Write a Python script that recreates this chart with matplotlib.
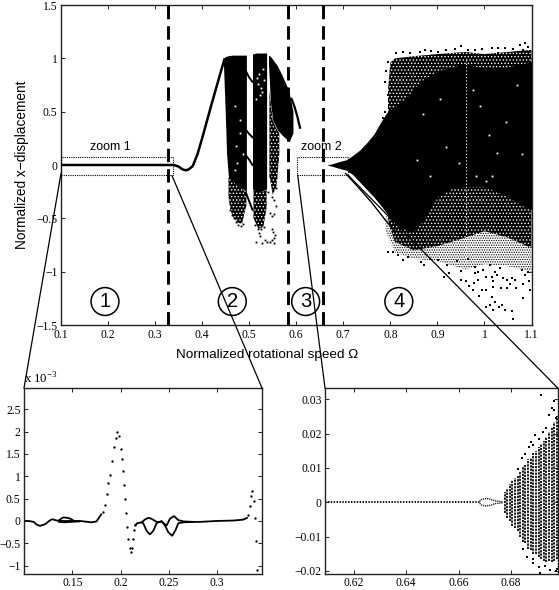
import matplotlib
matplotlib.use('Agg')
import matplotlib.pyplot as plt
from matplotlib.patches import ConnectionPatch, Rectangle

plt.rcParams['font.family'] = ['Liberation Serif', 'DejaVu Serif']
plt.rcParams['hatch.linewidth'] = 0.6
plt.rcParams['axes.unicode_minus'] = True

W, H = 559, 590

# ---- main panel data
curve_x = [0.1, 0.2, 0.33, 0.34, 0.35, 0.358, 0.365, 0.372, 0.38, 0.39, 0.40, 0.42, 0.44, 0.448]
curve_y = [0.0, 0.0, 0.0, 0.0, -0.015, -0.04, -0.05, -0.04, -0.01, 0.10, 0.25, 0.57, 0.88, 1.0]

bandA_x = [0.445, 0.449, 0.452, 0.456, 0.465, 0.475, 0.485, 0.494]
bandA_hi = [1.0, 1.015, 1.02, 1.025, 1.03, 1.03, 1.03, 1.03]
bandA_lo = [0.98, 0.5, 0.1, -0.12, -0.15, -0.2, -0.22, -0.25]
bandA_sp_x = [0.456, 0.46, 0.465, 0.475, 0.485, 0.49, 0.494]
bandA_sp_hi = [-0.12, -0.12, -0.15, -0.2, -0.22, -0.25, -0.25]
bandA_sp_lo = [-0.3, -0.42, -0.48, -0.54, -0.55, -0.45, -0.38]

bandB_x = [0.507, 0.515, 0.525, 0.537]
bandB_hi = [1.04, 1.05, 1.05, 1.05]
bandB_lo = [-0.22, -0.25, -0.25, -0.22]
bandB_sp_x = [0.509, 0.52, 0.53, 0.537]
bandB_sp_hi = [-0.22, -0.25, -0.25, -0.22]
bandB_sp_lo = [-0.5, -0.6, -0.58, -0.4]

bandC_x = [0.541, 0.545, 0.55, 0.56, 0.57, 0.58, 0.585, 0.593]
bandC_hi = [1.03, 1.02, 0.99, 0.93, 0.84, 0.74, 0.68, 0.5]
bandC_lo = [0.95, 0.6, 0.42, 0.33, 0.28, 0.24, 0.22, 0.3]
bandC_sp_x = [0.543, 0.55, 0.558, 0.564]
bandC_sp_hi = [0.7, 0.42, 0.34, 0.3]
bandC_sp_lo = [-0.1, -0.28, -0.2, 0.1]

tail_x = [0.59, 0.596, 0.602, 0.608]
tail_y = [0.62, 0.55, 0.46, 0.35]
branch_x = [[0.493, 0.5, 0.507], [0.493, 0.5, 0.507], [0.493, 0.5, 0.507], [0.493, 0.5, 0.507]]
branch_y = [[0.88, 0.82, 0.78], [0.33, 0.29, 0.26], [0.09, 0.05, 0.0], [-0.26, -0.34, -0.42]]

sparse2_x = [0.46, 0.463, 0.468, 0.472, 0.477, 0.483, 0.487, 0.515, 0.522, 0.528, 0.533, 0.537, 0.52, 0.526,
             0.545, 0.548, 0.552, 0.556, 0.549, 0.55, 0.552, 0.548, 0.545, 0.552, 0.555, 0.512, 0.519, 0.531,
             0.549, 0.553, 0.556, 0.557, 0.56, 0.544, 0.541]
sparse2_y = [-0.42, -0.47, -0.5, -0.53, -0.56, -0.57, -0.55, -0.72, -0.67, -0.73, -0.7, -0.72, -0.64, -0.6,
             -0.45, -0.48, -0.46, -0.38, -0.6, -0.63, -0.68, -0.7, -0.72, -0.73, -0.66, -0.56, -0.6, -0.58,
             -0.3, -0.33, -0.22, -0.12, 0.05, -0.1, -0.25]

solid4_x = [0.665, 0.675, 0.69, 0.707, 0.72, 0.735, 0.75, 0.765, 0.778, 0.792, 0.80, 0.82, 0.84, 0.85, 0.87,
            0.90, 0.93, 0.96, 1.0, 1.05, 1.08, 1.1]
solid4_hi = [0.0, 0.01, 0.03, 0.05, 0.09, 0.14, 0.21, 0.29, 0.39, 0.49, 0.52, 0.58, 0.66, 0.72, 0.8,
             0.88, 0.92, 0.95, 0.9, 0.92, 0.95, 0.97]
solid4_lo = [0.0, -0.01, -0.03, -0.05, -0.09, -0.16, -0.23, -0.3, -0.37, -0.45, -0.5, -0.58, -0.62, -0.62, -0.52,
             -0.3, -0.22, -0.2, -0.2, -0.3, -0.38, -0.42]
dense4_x = [0.795, 0.80, 0.81, 0.85, 0.90, 0.96, 1.0, 1.05, 1.1]
dense4_hi = [0.7, 0.96, 1.0, 1.02, 1.04, 1.06, 1.04, 1.06, 1.08]
dense4_lo = [-0.5, -0.6, -0.72, -0.8, -0.76, -0.68, -0.62, -0.68, -0.78]
stip4_x = [0.79, 0.81, 0.85, 0.90, 0.96, 1.0, 1.05, 1.1]
stip4_hi = [-0.45, -0.7, -0.78, -0.74, -0.66, -0.6, -0.66, -0.76]
stip4_lo = [-0.62, -0.82, -0.88, -0.9, -0.98, -0.93, -0.95, -1.0]
edge4_x = [0.705, 0.73, 0.76, 0.79, 0.81]
edge4_y = [-0.08, -0.2, -0.35, -0.52, -0.62]

sparse4_x = [0.794, 0.806, 0.817, 0.827, 0.838, 0.866, 0.872, 0.884, 0.902, 0.914, 0.924, 0.921, 0.951, 0.941,
             0.965, 0.980, 0.987, 0.997, 1.011, 1.022, 1.033, 1.015, 0.950, 0.960, 0.967, 0.978, 0.980, 0.987,
             1.004, 1.019, 1.026, 1.040, 1.047, 1.058, 1.065, 1.079, 1.086, 1.093, 1.094, 1.082, 1.068, 1.054,
             1.047, 1.036, 1.019, 1.004, 0.994, 0.988, 0.976, 1.015, 1.022, 1.011, 1.031, 1.038, 1.004, 1.019,
             1.043, 1.058, 1.061, 1.082, 1.097,
             0.951, 0.937, 0.919, 0.902, 0.887, 0.873, 0.863, 0.841, 0.827, 0.811, 0.98, 0.994, 1.015, 1.028,
             1.043, 1.061, 1.075, 1.086, 1.093, 1.082, 1.05, 1.029, 0.965, 0.795, 0.79, 0.788, 0.794, 0.788, 0.785]
sparse4_y = [-0.82, -0.82, -0.84, -0.89, -0.86, -0.91, -0.94, -0.88, -0.89, -1.05, -1.01, -0.94, -0.99, -0.90,
             -0.88, -0.96, -1.0, -0.98, -0.94, -1.0, -0.97, -1.05, -1.08, -1.09, -1.13, -1.11, -1.01, -1.08,
             -1.05, -1.09, -1.03, -1.06, -1.08, -1.06, -1.08, -0.98, -1.03, -1.0, -1.09, -1.12, -1.15, -1.12,
             -1.15, -1.15, -1.145, -1.17, -1.17, -1.23, -1.17, -1.24, -1.28, -1.31, -1.33, -1.31, -1.33, -1.36,
             -1.36, -1.37, -1.44, -1.25, -1.17,
             1.118, 1.087, 1.077, 1.06, 1.068, 1.077, 1.055, 1.046, 1.055, 1.046, 1.077, 1.087, 1.1, 1.093,
             1.093, 1.087, 1.124, 1.14, 1.109, 1.077, 1.03, 1.046, 1.077, 0.968, 0.88, 0.78, 0.656, 0.5, 0.44]

white_x = [0.47, 0.48, 0.475, 0.52, 0.525, 0.53, 0.515, 0.47, 0.518, 0.528, 0.522, 0.532, 0.516, 0.48, 0.472, 0.486,
           0.87, 1.01, 0.856, 0.919, 0.983, 1.004, 0.99, 1.026, 0.885, 0.975, 1.045, 1.08, 0.905, 0.945, 1.015, 1.07]
white_y = [0.55, 0.3, 0.02, 0.85, 0.72, 0.9, 0.62, -0.05, 0.76, 0.68, 0.66, 0.8, 0.82, 0.42, 0.18, 0.1,
           0.48, 0.28, 0.05, 0.17, -0.1, -0.15, 0.55, 0.11, -0.1, 0.7, 0.4, 0.1, 0.62, 0.02, -0.1, 0.75]
gap4_x = 0.96
gap4_y = [-0.9, 1.0]

x_main_ticks = [0.1, 0.2, 0.3, 0.4, 0.5, 0.6, 0.7, 0.8, 0.9, 1.0, 1.1]
x_main_labels = ['0.1', '0.2', '0.3', '0.4', '0.5', '0.6', '0.7', '0.8', '0.9', '1', '1.1']
y_main_ticks = [-1.5, -1, -0.5, 0, 0.5, 1, 1.5]
y_main_labels = ['\u22121.5', '\u22121', '\u22120.5', '0', '0.5', '1', '1.5']
dash_x = [0.328, 0.5825, 0.656]
region_x = [0.1935, 0.464, 0.62, 0.818]
region_names = ['1', '2', '3', '4']

# ---- zoom 1 data (units of 1e-3)
z1_line_x = [0.1, 0.105, 0.11, 0.113, 0.1166, 0.122, 0.126, 0.129, 0.134, 0.139, 0.148, 0.158, 0.17, 0.175, 0.18]
z1_line_y = [0.0, 0.0, -0.02, -0.08, -0.11, -0.07, 0.0, 0.04, 0.01, 0.0, 0.0, 0.0, -0.03, -0.01, 0.15]
z1_loop_x = [0.136, 0.139, 0.141, 0.145, 0.148, 0.152]
z1_loop_y = [0.01, 0.06, 0.08, 0.07, 0.05, 0.0]
z1_loop2_x = [0.136, 0.141, 0.148, 0.158]
z1_loop2_y = [-0.02, -0.03, -0.02, -0.01]
z1_dots_x = [0.182, 0.1838, 0.1855, 0.1872, 0.189, 0.1907, 0.1928, 0.1948, 0.1966, 0.1986, 0.2003, 0.2014, 0.2024,
             0.2034, 0.2045, 0.2055, 0.2066, 0.2076, 0.2093, 0.2103, 0.2117, 0.2124, 0.2134, 0.2148]
z1_dots_y = [0.2, 0.35, 0.6, 0.85, 1.03, 1.35, 1.65, 1.85, 2.0, 1.9, 1.6, 1.38, 1.12,
             0.8, 0.5, 0.17, -0.13, -0.4, -0.6, -0.7, -0.6, -0.4, -0.2, -0.1]
z1_up_x = [0.2148, 0.2172, 0.2217, 0.225, 0.2286, 0.232, 0.2372, 0.2424, 0.2476, 0.251, 0.2552, 0.2597, 0.265, 0.2752]
z1_up_y = [-0.1, -0.05, -0.03, 0.03, 0.07, 0.05, -0.02, -0.02, -0.1, 0.05, 0.11, 0.02, -0.01, -0.02]
z1_lo_x = [0.2217, 0.2234, 0.2269, 0.2303, 0.2338, 0.2372, 0.2424, 0.2459, 0.2493, 0.2534, 0.2569, 0.2597, 0.265, 0.2752]
z1_lo_y = [-0.03, -0.05, -0.22, -0.3, -0.22, -0.05, 0.0, -0.1, -0.25, -0.33, -0.2, -0.05, -0.03, -0.02]
z1_end_x = [0.2752, 0.282, 0.2993, 0.3166, 0.3269, 0.331]
z1_end_y = [-0.02, -0.02, 0.0, 0.01, 0.03, 0.07]
z1_end_dots_x = [0.332, 0.3338, 0.3345, 0.3362, 0.338, 0.339, 0.34, 0.341]
z1_end_dots_y = [0.14, 0.33, 0.55, 0.67, 0.44, 0.07, -0.44, -1.1]

# ---- zoom 2 data
z2_flat_x = [0.609, 0.668]
z2_flat_y = [0.0, 0.0]
z2_top_x = [0.668, 0.669, 0.6705, 0.672, 0.674, 0.676, 0.677]
z2_top_y = [0.0003, 0.0009, 0.0011, 0.0009, 0.0004, 0.0002, 0.0001]
z2_bot_x = [0.668, 0.669, 0.6705, 0.672, 0.674, 0.676, 0.677]
z2_bot_y = [-0.0003, -0.0009, -0.0011, -0.0009, -0.0004, -0.0002, -0.0001]
wedge_x = [0.6775, 0.6785, 0.6795, 0.6805, 0.6815, 0.6825, 0.6835, 0.6845, 0.6855, 0.6865, 0.6875, 0.6885,
           0.6895, 0.6905, 0.6915, 0.6925, 0.6935, 0.6945, 0.6955, 0.6965, 0.6975]
wedge_hi = [0.003, 0.0038, 0.0052, 0.0065, 0.0072, 0.0078, 0.009, 0.0105, 0.011, 0.0125, 0.013, 0.0145,
            0.015, 0.016, 0.017, 0.018, 0.019, 0.0205, 0.022, 0.0235, 0.025]
wedge_lo = [-0.003, -0.0045, -0.0055, -0.0068, -0.0075, -0.0085, -0.01, -0.0115, -0.012, -0.0135, -0.014, -0.015,
            -0.015, -0.016, -0.0165, -0.017, -0.0175, -0.017, -0.0175, -0.017, -0.0165]
z2_pts_x = [0.6915, 0.6965, 0.6945, 0.6972, 0.6935, 0.689, 0.6875, 0.6955, 0.6825, 0.684, 0.6855, 0.687, 0.6885,
            0.6905, 0.692, 0.6965, 0.6885, 0.6905, 0.693, 0.695, 0.6972, 0.6845, 0.686, 0.6885, 0.691, 0.6975]
z2_pts_y = [0.0313, 0.0295, 0.0255, 0.0245, 0.0215, 0.0195, 0.0175, 0.0275, 0.0098, 0.0128, 0.0142, 0.016, 0.0168,
            0.0185, 0.0205, 0.027, -0.0178, -0.019, -0.0185, -0.0198, -0.02, -0.0135, -0.016, -0.0165, -0.0205, -0.0195]

z1_xticks = [0.15, 0.2, 0.25, 0.3]
z1_xlabels = ['0.15', '0.2', '0.25', '0.3']
z1_yticks = [-1, -0.5, 0, 0.5, 1, 1.5, 2, 2.5]
z1_ylabels = ['\u22121', '\u22120.5', '0', '0.5', '1', '1.5', '2', '2.5']
z2_xticks = [0.62, 0.64, 0.66, 0.68]
z2_xlabels = ['0.62', '0.64', '0.66', '0.68']
z2_yticks = [-0.02, -0.01, 0, 0.01, 0.02, 0.03]
z2_ylabels = ['\u22120.02', '\u22120.01', '0', '0.01', '0.02', '0.03']

fig = plt.figure(figsize=(W / 100, H / 100), dpi=100)


def box(l, t, r, b):
    return [l / W, 1 - b / H, (r - l) / W, (b - t) / H]


def style(ax, size=8.4):
    ax.tick_params(direction='in', top=True, right=True, length=3, width=0.7, labelsize=size, pad=2.5, color='#222222')
    for s in ax.spines.values():
        s.set_linewidth(1.0)
        s.set_color('#222222')


ax = fig.add_axes(box(61, 5, 531.5, 325))
ax.set_xlim(0.1, 1.1)
ax.set_ylim(-1.5, 1.5)
style(ax)
ax.set_xticks(x_main_ticks, x_main_labels)
ax.set_yticks(y_main_ticks, y_main_labels)
ax.tick_params(axis='x', pad=3.2)

ax.plot(curve_x, curve_y, color='k', lw=1.8, solid_capstyle='butt', zorder=3)


def stipple(x, hi, lo):
    ax.fill_between(x, lo, hi, facecolor='white', edgecolor='black', hatch='.......', lw=0, zorder=2)


def speckled(x, hi, lo):
    ax.fill_between(x, lo, hi, facecolor='black', edgecolor='white', hatch='.....', lw=0, zorder=2.5)


stipple(stip4_x, stip4_hi, stip4_lo)
speckled(bandC_sp_x, bandC_sp_hi, bandC_sp_lo)
speckled(dense4_x, dense4_hi, dense4_lo)
speckled(bandA_sp_x, bandA_sp_hi, bandA_sp_lo)
speckled(bandB_sp_x, bandB_sp_hi, bandB_sp_lo)
for x, hi, lo in [(bandA_x, bandA_hi, bandA_lo), (bandB_x, bandB_hi, bandB_lo), (bandC_x, bandC_hi, bandC_lo),
                  (solid4_x, solid4_hi, solid4_lo)]:
    ax.fill_between(x, lo, hi, color='black', lw=0, zorder=3)
ax.plot(tail_x, tail_y, color='k', lw=1.6, zorder=3)
for bx, by in zip(branch_x, branch_y):
    ax.plot(bx, by, color='k', lw=1.4, zorder=3)
ax.plot(edge4_x, edge4_y, color='k', lw=1.0, zorder=3)
ax.plot(sparse2_x, sparse2_y, ls='none', marker='s', ms=1.3, mfc='k', mec='k', mew=0, zorder=3)
ax.plot(sparse4_x, sparse4_y, ls='none', marker='s', ms=1.5, mfc='k', mec='k', mew=0, zorder=3)
ax.plot(white_x, white_y, ls='none', marker='s', ms=1.3, mfc='white', mec='white', mew=0, zorder=4)
ax.plot([gap4_x, gap4_x], gap4_y, color='white', lw=0.8, ls=(0, (1, 2)), zorder=4)

for d in dash_x:
    ax.axvline(d, color='k', lw=2.1, ls=(0, (4.6, 2.4)), zorder=5)

for zx0, zx1 in [(0.1, 0.338), (0.602, 0.71)]:
    ax.add_patch(Rectangle((zx0, -0.095), zx1 - zx0, 0.167, fill=False, ec='k', lw=0.8, ls=(0, (1, 1)), zorder=5,
                           clip_on=False))

for xp, name in zip(region_x, region_names):
    ax.text(xp, -1.28, name, ha='center', va='center', fontsize=14.5, family='Liberation Sans', zorder=6,
            bbox=dict(boxstyle='circle,pad=0.22', fc='none', ec='k', lw=1.1))
ax.text(0.2042, 0.17, 'zoom 1', ha='center', va='center', fontsize=9, family='Liberation Sans', zorder=6)
ax.text(0.654, 0.17, 'zoom 2', ha='center', va='center', fontsize=9, family='Liberation Sans', zorder=6)
ax.set_xlabel('Normalized rotational speed \u03a9', fontsize=9.7, family=['Liberation Sans', 'DejaVu Sans'])
ax.xaxis.set_label_coords(0.438, -0.075)
ax.set_ylabel('Normalized x\u2212displacement', fontsize=9.8, family=['Liberation Sans', 'DejaVu Sans'], labelpad=5)

# zoom 1
a1 = fig.add_axes(box(24, 388, 262, 574))
a1.set_xlim(0.1, 0.3463)
a1.set_ylim(-1.186, 2.975)
style(a1)
a1.set_xticks(z1_xticks, z1_xlabels)
a1.set_yticks(z1_yticks, z1_ylabels)
lk = dict(color='k', lw=1.3, solid_capstyle='round')
a1.plot(z1_line_x, z1_line_y, **lk)
a1.plot(z1_loop_x, z1_loop_y, **lk)
a1.plot(z1_loop2_x, z1_loop2_y, **lk)
a1.plot(z1_up_x, z1_up_y, **lk)
a1.plot(z1_lo_x, z1_lo_y, **lk)
a1.plot(z1_end_x, z1_end_y, **lk)
dk = dict(ls='none', marker='o', ms=1.7, mfc='k', mec='k', mew=0, clip_on=False)
a1.plot(z1_dots_x, z1_dots_y, **dk)
a1.plot(z1_end_dots_x, z1_end_dots_y, **dk)
a1.text(0.0, 1.005, 'x 10$^{\\mathregular{-3}}$', transform=a1.transAxes, ha='left', va='bottom', fontsize=9.2)

# zoom 2
a2 = fig.add_axes(box(325, 388, 557.7, 574))
a2.set_xlim(0.609, 0.6978)
a2.set_ylim(-0.0209, 0.0333)
style(a2)
a2.set_xticks(z2_xticks, z2_xlabels)
a2.set_yticks(z2_yticks, z2_ylabels)
a2.plot(z2_flat_x, z2_flat_y, color='k', lw=1.3, ls=(0, (0.8, 0.8)))
pk = dict(color='k', lw=1.0, ls=(0, (0.8, 0.7)))
a2.plot(z2_top_x, z2_top_y, **pk)
a2.plot(z2_bot_x, z2_bot_y, **pk)
a2.vlines(wedge_x, wedge_lo, wedge_hi, colors='k', lw=1.25, linestyles=[(0, (1.3, 0.6))])
a2.plot(z2_pts_x, z2_pts_y, ls='none', marker='s', ms=1.6, mfc='k', mec='k', mew=0)

# connecting lines
for xyA, axB, xyB in [((0.1, -0.08), a1, (0, 1)), ((0.336, -0.1), a1, (1, 1)),
                      ((0.603, -0.095), a2, (0, 1)), ((0.71, -0.095), a2, (1, 1))]:
    fig.add_artist(ConnectionPatch(xyA=xyA, coordsA=ax.transData, xyB=xyB, coordsB=axB.transAxes,
                                   color='k', lw=0.9, zorder=10))

fig.savefig('out.png', dpi=100)
